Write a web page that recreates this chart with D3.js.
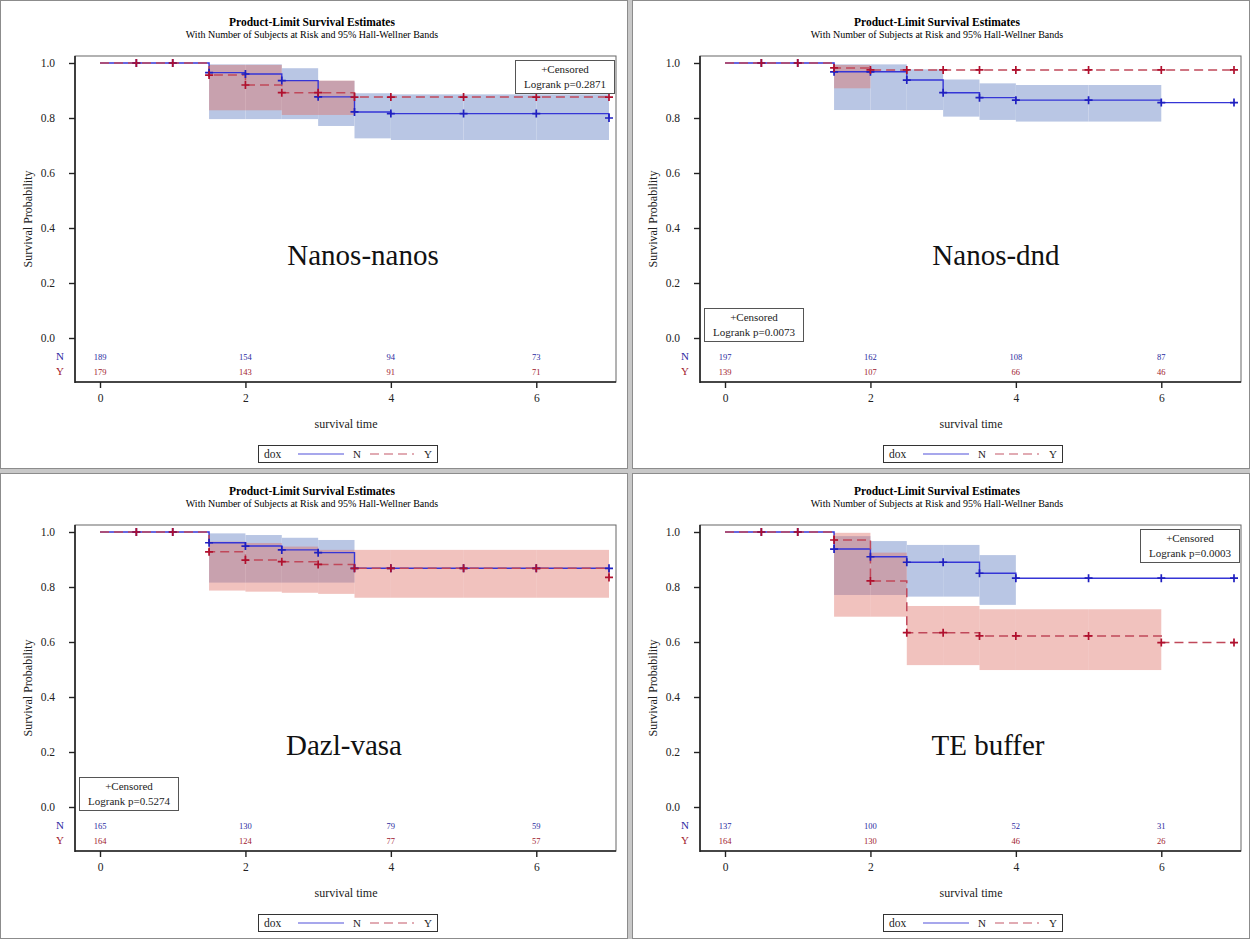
<!DOCTYPE html>
<html>
<head>
<meta charset="utf-8">
<script src="https://cdn.jsdelivr.net/npm/d3@7"></script>
<style>
  body { margin: 0; background: #fff; }
  text { font-family: "Liberation Serif", "DejaVu Serif", serif; }
</style>
</head>
<body>
<div id="chart"></div>
<script>
// time points where the estimates may change (step after)
var times = [0, 0.5, 1, 1.5, 2, 2.5, 3, 3.5, 4, 5, 6, 7];
var censorTimes = [0.5, 1, 1.5, 2, 2.5, 3, 3.5, 4, 5, 6, 7];
var xTicks = [0, 2, 4, 6];
var yTicks = [0, 0.2, 0.4, 0.6, 0.8, 1.0];
var groups = ["N", "Y"];

var panelNames = ["Nanos-nanos", "Nanos-dnd", "Dazl-vasa", "TE buffer"];
var logrankP = ["0.2871", "0.0073", "0.5274", "0.0003"];

// survival estimate at each time point
var survN = [
  [1, 1, 1, 0.965, 0.960, 0.936, 0.877, 0.822, 0.816, 0.816, 0.816, 0.800],
  [1, 1, 1, 0.968, 0.968, 0.938, 0.892, 0.874, 0.865, 0.865, 0.856, 0.856],
  [1, 1, 1, 0.961, 0.949, 0.935, 0.925, 0.868, 0.868, 0.868, 0.868, 0.868],
  [1, 1, 1, 0.938, 0.910, 0.890, 0.890, 0.850, 0.832, 0.832, 0.832, 0.832]
];
var survY = [
  [1, 1, 1, 0.956, 0.920, 0.892, 0.892, 0.876, 0.876, 0.876, 0.876, 0.876],
  [1, 1, 1, 0.982, 0.975, 0.975, 0.975, 0.975, 0.975, 0.975, 0.975, 0.975],
  [1, 1, 1, 0.928, 0.898, 0.892, 0.882, 0.868, 0.868, 0.868, 0.868, 0.835],
  [1, 1, 1, 0.971, 0.822, 0.634, 0.634, 0.622, 0.622, 0.622, 0.598, 0.598]
];

// Hall-Wellner bands, one value per interval [times[i], times[i+1]]
var bandNHi = [
  [null, null, null, 0.995, 0.995, 0.981, 0.935, 0.890, 0.886, 0.886, 0.886],
  [null, null, null, 0.995, 0.995, 0.977, 0.940, 0.926, 0.920, 0.920, null],
  [null, null, null, 0.995, 0.989, 0.979, 0.971, null, null, null, null],
  [null, null, null, 0.985, 0.967, 0.953, 0.953, 0.916, null, null, null]
];
var bandNLo = [
  [null, null, null, 0.796, 0.796, 0.796, 0.771, 0.726, 0.720, 0.720, 0.720],
  [null, null, null, 0.829, 0.829, 0.829, 0.805, 0.793, 0.787, 0.787, null],
  [null, null, null, 0.816, 0.816, 0.816, 0.816, null, null, null, null],
  [null, null, null, 0.771, 0.771, 0.765, 0.765, 0.735, null, null, null]
];
var bandYHi = [
  [null, null, null, 0.993, 0.993, 0.936, 0.936, null, null, null, null],
  [null, null, null, 0.993, null, null, null, null, null, null, null],
  [null, null, null, 0.965, 0.960, 0.947, 0.935, 0.935, 0.935, 0.935, 0.935],
  [null, null, null, 0.997, 0.925, 0.731, 0.731, 0.719, 0.719, 0.719, null]
];
var bandYLo = [
  [null, null, null, 0.828, 0.828, 0.811, 0.811, null, null, null, null],
  [null, null, null, 0.908, null, null, null, null, null, null, null],
  [null, null, null, 0.787, 0.783, 0.779, 0.775, 0.761, 0.761, 0.761, 0.761],
  [null, null, null, 0.692, 0.692, 0.516, 0.516, 0.498, 0.498, 0.498, null]
];

// number of subjects at risk at 0, 2, 4, 6
var atRiskN = [[189, 154, 94, 73], [197, 162, 108, 87], [165, 130, 79, 59], [137, 100, 52, 31]];
var atRiskY = [[179, 143, 91, 71], [139, 107, 66, 46], [164, 124, 77, 57], [164, 130, 46, 26]];

// layout
var svgWidth = 1250, svgHeight = 939;
var panelPos = [[0, 0], [625, 0], [0, 469], [625, 469]];
var labelPos = [[363, 255], [371, 255], [344, 276], [363, 276]];
var boxTopRight = [true, false, false, true];
var plot = { left: 75, right: 616, top: 56, bottom: 382 };

var colN = "#3535d6", colY = "#c0485a";
var markN = "#1f1fc0", markY = "#b0102e";
var bandColN = "#b9c6e4", bandColY = "rgba(222, 110, 100, 0.42)";
var textN = "#2a2aa0", textY = "#a0202e";

var svg = d3.select("#chart").append("svg")
  .attr("width", svgWidth)
  .attr("height", svgHeight);

svg.append("rect").attr("width", svgWidth).attr("height", svgHeight).attr("fill", "#fff");

// panel dividers
svg.append("rect").attr("x", 628).attr("y", 0).attr("width", 4).attr("height", svgHeight).attr("fill", "#c8c8c8");
svg.append("rect").attr("x", 0).attr("y", 469).attr("width", svgWidth).attr("height", 4).attr("fill", "#c8c8c8");
[[0.5, 0.5, 627, 468], [632.5, 0.5, 617, 468], [0.5, 473.5, 627, 465], [632.5, 473.5, 617, 465]].forEach(function(r) {
  svg.append("rect").attr("x", r[0]).attr("y", r[1]).attr("width", r[2]).attr("height", r[3])
    .attr("fill", "none").attr("stroke", "#8c8c8c").attr("stroke-width", 1);
});

var xScale = d3.scaleLinear().domain([0, 7]).range([100, 609]);
var yScale = d3.scaleLinear().domain([0, 1]).range([338, 63]);

panelNames.forEach(function(name, p) {
  var g = svg.append("g").attr("transform", `translate(${panelPos[p][0]}, ${panelPos[p][1]})`);

  // titles
  g.append("text").attr("x", 312).attr("y", 26).attr("text-anchor", "middle")
    .attr("font-size", "11.5px").attr("font-weight", "bold").text("Product-Limit Survival Estimates");
  g.append("text").attr("x", 312).attr("y", 38).attr("text-anchor", "middle")
    .attr("font-size", "10px").text("With Number of Subjects at Risk and 95% Hall-Wellner Bands");

  // bands
  var bandSets = [[bandNLo[p], bandNHi[p], bandColN], [bandYLo[p], bandYHi[p], bandColY]];
  bandSets.forEach(function(b) {
    var rows = [];
    for (var i = 0; i < times.length - 1; i++) {
      if (b[0][i] != null) rows.push({ t0: times[i], t1: times[i + 1], lo: b[0][i], hi: b[1][i] });
    }
    g.append("g").selectAll("rect").data(rows).enter().append("rect")
      .attr("x", d => xScale(d.t0))
      .attr("width", d => xScale(d.t1) - xScale(d.t0))
      .attr("y", d => yScale(d.hi))
      .attr("height", d => yScale(d.lo) - yScale(d.hi))
      .attr("fill", b[2]);
  });

  // step lines
  var line = d3.line().curve(d3.curveStepAfter)
    .x(d => xScale(d[0])).y(d => yScale(d[1]));
  var ptsN = times.map((t, i) => [t, survN[p][i]]);
  var ptsY = times.map((t, i) => [t, survY[p][i]]);
  g.append("path").datum(ptsN).attr("d", line).attr("fill", "none")
    .attr("stroke", colN).attr("stroke-width", 1.4);
  g.append("path").datum(ptsY).attr("d", line).attr("fill", "none")
    .attr("stroke", colY).attr("stroke-width", 1.5).attr("stroke-dasharray", "9,5");

  // censored marks
  [[survN[p], markN], [survY[p], markY]].forEach(function(s) {
    var marks = censorTimes.map(t => [t, s[0][times.indexOf(t)]]);
    g.append("g").selectAll("path").data(marks).enter().append("path")
      .attr("d", d => {
        var cx = xScale(d[0]), cy = yScale(d[1]);
        return `M${cx - 4},${cy}H${cx + 4}M${cx},${cy - 4}V${cy + 4}`;
      })
      .attr("stroke", s[1]).attr("stroke-width", 1.7);
  });

  // frame and axes
  g.append("rect").attr("x", plot.left).attr("y", plot.top)
    .attr("width", plot.right - plot.left).attr("height", plot.bottom - plot.top)
    .attr("fill", "none").attr("stroke", "#666").attr("stroke-width", 1);
  g.append("line").attr("x1", plot.left).attr("x2", plot.left).attr("y1", plot.top).attr("y2", plot.bottom + 1)
    .attr("stroke", "#222").attr("stroke-width", 1.6);
  g.append("line").attr("x1", plot.left).attr("x2", plot.right).attr("y1", plot.bottom).attr("y2", plot.bottom)
    .attr("stroke", "#222").attr("stroke-width", 1.6);

  var yAxis = g.append("g").attr("transform", `translate(${plot.left}, 0)`)
    .call(d3.axisLeft(yScale).tickValues(yTicks).tickFormat(d3.format(".1f")).tickSize(6).tickPadding(14));
  var xAxis = g.append("g").attr("transform", `translate(0, ${plot.bottom})`)
    .call(d3.axisBottom(xScale).tickValues(xTicks).tickFormat(d3.format("d")).tickSize(6).tickPadding(6));
  [yAxis, xAxis].forEach(function(a) {
    a.select(".domain").remove();
    a.selectAll("line").attr("stroke", "#222").attr("stroke-width", 1.4);
    a.selectAll("text").attr("font-family", "Liberation Serif").attr("font-size", "11.5px").attr("fill", "#222");
  });

  // axis titles
  g.append("text").attr("transform", "translate(32, 219) rotate(-90)").attr("text-anchor", "middle")
    .attr("font-size", "12px").attr("fill", "#222").text("Survival Probability");
  g.append("text").attr("x", 346).attr("y", 428).attr("text-anchor", "middle")
    .attr("font-size", "12px").attr("fill", "#222").text("survival time");

  // at-risk table
  [[atRiskN[p], textN, 360, "N"], [atRiskY[p], textY, 375, "Y"]].forEach(function(r) {
    g.append("text").attr("x", 64).attr("y", r[2]).attr("text-anchor", "end")
      .attr("font-size", "11px").attr("fill", r[1]).text(r[3]);
    g.append("g").selectAll("text").data(r[0]).enter().append("text")
      .attr("x", (d, i) => xScale(xTicks[i])).attr("y", r[2] - 0.5)
      .attr("text-anchor", "middle").attr("font-size", "8.5px").attr("fill", r[1])
      .text(d => d);
  });

  // censored / logrank box
  var bx = boxTopRight[p] ? 515 : 79, by = boxTopRight[p] ? 60 : 308;
  g.append("rect").attr("x", bx + 0.5).attr("y", by + 0.5).attr("width", 99).attr("height", 33)
    .attr("fill", "#fff").attr("stroke", "#555");
  g.append("text").attr("x", bx + 50).attr("y", by + 13).attr("text-anchor", "middle")
    .attr("font-size", "11px").attr("fill", "#222").text("+Censored");
  g.append("text").attr("x", bx + 50).attr("y", by + 28).attr("text-anchor", "middle")
    .attr("font-size", "11px").attr("fill", "#222").text("Logrank p=" + logrankP[p]);

  // group label
  g.append("text").attr("x", labelPos[p][0]).attr("y", labelPos[p][1] + 10).attr("text-anchor", "middle")
    .attr("font-size", "29px").attr("fill", "#111").text(name);

  // legend
  var lg = g.append("g").attr("transform", "translate(258, 445)");
  lg.append("rect").attr("x", 0.5).attr("y", 0.5).attr("width", 179).attr("height", 17)
    .attr("fill", "#fff").attr("stroke", "#333");
  lg.append("text").attr("x", 6).attr("y", 13).attr("font-size", "11.5px").attr("fill", "#222").text("dox");
  lg.append("line").attr("x1", 40).attr("x2", 86).attr("y1", 9).attr("y2", 9)
    .attr("stroke", "#8a8ae6").attr("stroke-width", 1.4);
  lg.append("text").attr("x", 95).attr("y", 13).attr("font-size", "11px").attr("fill", "#222").text(groups[0]);
  lg.append("line").attr("x1", 112).attr("x2", 156).attr("y1", 9).attr("y2", 9)
    .attr("stroke", "#d8909a").attr("stroke-width", 1.4).attr("stroke-dasharray", "9,5");
  lg.append("text").attr("x", 166).attr("y", 13).attr("font-size", "11px").attr("fill", "#222").text(groups[1]);
});
</script>
</body>
</html>
